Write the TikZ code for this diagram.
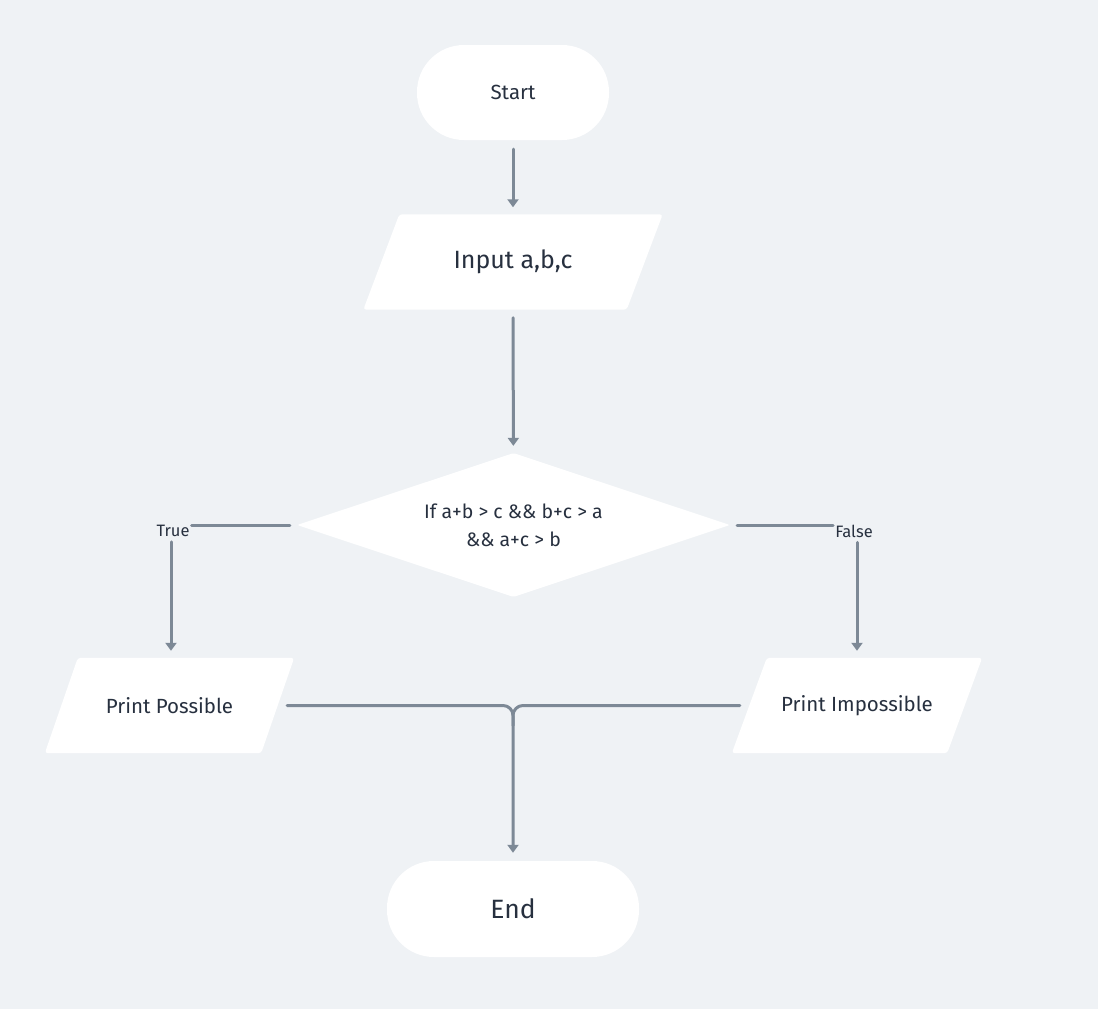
\documentclass[tikz,border=0pt]{standalone}
\usepackage{fontspec}
\setmainfont{Fira Sans}
\usetikzlibrary{shapes.geometric,arrows.meta,calc}
\definecolor{bgc}{HTML}{EFF2F5}
\definecolor{linec}{HTML}{7D8996}
\definecolor{txtc}{HTML}{27303F}
\pgfdeclarelayer{bglayer}
\pgfsetlayers{bglayer,main}
\begin{document}
\begin{tikzpicture}[x=1pt,y=-1pt,
  term/.style={rectangle, rounded corners=47pt, fill=white, text=txtc, inner sep=0pt},
  io/.style={rectangle, inner sep=0pt, text=txtc, minimum height=95pt},
  dec/.style={diamond, shape aspect=3, fill=white, minimum width=433pt, minimum height=144pt, inner sep=0pt,
    align=center, text=txtc, font=\fontsize{19.5}{28}\selectfont, rounded corners=2pt},
  flow/.style={draw=linec, line width=3pt, line cap=round},
  arr/.style={flow, -{Triangle[width=11pt,length=8pt]}},
  lbl/.style={text=txtc, inner sep=2pt, font=\fontsize{16.5}{19}\selectfont}]
\useasboundingbox (0,0) rectangle (1098,1009);

\node[term, minimum width=192pt, minimum height=95pt, font=\fontsize{20.5}{24}\selectfont] (start) at (513,92.5) {Start};
\node[io, minimum width=263pt, font=\fontsize{25}{30}\selectfont] (inp) at (513,262) {Input a,b,c};
\node[dec] (dec) at (513.5,525) {If a+b > c \&\& b+c > a\\\&\& a+c > b};
\node[io, minimum width=216pt, font=\fontsize{20.5}{24}\selectfont] (pp) at (169.5,705.5) {Print Possible};
\node[io, minimum width=215pt, font=\fontsize{20.5}{24}\selectfont] (pi) at (857,705.5) {Print Impossible};
\node[term, minimum width=252pt, minimum height=96pt, font=\fontsize{26.5}{30}\selectfont] (end) at (513,909) {End};
\node[lbl] (tl) at (173,531) {True};
\node[lbl] (fl) at (854,531) {False};

\begin{pgfonlayer}{bglayer}
\fill[bgc] (0,0) rectangle (1098,1009);
\foreach \n/\s in {inp/18, pp/16.5, pi/17.5}
  \fill[white, rounded corners=3pt] ($(\n.south west)+(-\s,0)$) -- ($(\n.north west)+(\s,0)$)
    -- ($(\n.north east)+(\s,0)$) -- ($(\n.south east)+(-\s,0)$) -- cycle;
\end{pgfonlayer}

\draw[arr, shorten <=9pt, shorten >=7pt] (start) -- (inp);
\draw[arr, shorten <=8pt, shorten >=7pt] (inp) -- (dec);

\draw[flow] ([xshift=-7pt]dec.west) -- (dec.west -| tl.east);
\draw[arr, shorten >=7pt] ($(tl.south -| pp.north)+(1.5,3)$) -- ($(pp.north)+(1.5,0)$);
\draw[flow] ([xshift=7pt]dec.east) -- (dec.east -| fl.west);
\draw[arr, shorten >=7pt] ($(fl.south -| pi.north)+(0,3)$) -- (pi.north);

\draw[flow, rounded corners=10pt] ([xshift=9.5pt]pp.east) -- (pp.east -| end.north) -- ++(0,20);
\draw[arr, rounded corners=10pt, shorten >=8pt] ([xshift=-9.5pt]pi.west) -- (pi.west -| end.north) -- (end.north);
\end{tikzpicture}
\end{document}
